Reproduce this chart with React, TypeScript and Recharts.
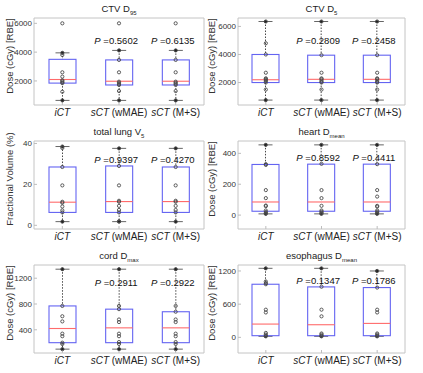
import React from 'react';
import { ComposedChart, Bar, Scatter, XAxis, YAxis, ReferenceArea } from 'recharts';

const GROUPS = ['iCT', 'sCT (wMAE)', 'sCT (M+S)'];

// CTV D95
const d95Lo = [650, 650, 650];
const d95Q1 = [1850, 1720, 1720];
const d95Med = [2100, 1980, 1980];
const d95Q3 = [3500, 3460, 3460];
const d95Hi = [3950, 4120, 4120];
const d95Points = [
  [6000, 3950, 3800, 2600, 2300, 2050, 1980, 1900, 1850, 1250, 650],
  [6000, 4120, 3460, 2600, 1950, 1880, 1800, 1720, 1300, 650],
  [6000, 4120, 3460, 2600, 1950, 1880, 1800, 1720, 1300, 650],
];
const d95P = ['', '0.5602', '0.6135'];
const d95Ticks = [2000, 4000, 6000];

// CTV D5
const d5Lo = [750, 750, 750];
const d5Q1 = [2000, 2000, 2000];
const d5Med = [2200, 2230, 2230];
const d5Q3 = [4000, 3950, 3950];
const d5Hi = [6350, 6350, 6350];
const d5Points = [
  [6350, 4800, 4000, 2700, 2300, 2250, 2180, 2100, 2000, 1500, 750],
  [6350, 3950, 2700, 2300, 2250, 2150, 2050, 2000, 1500, 750],
  [6350, 3950, 2700, 2300, 2250, 2150, 2050, 2000, 1500, 750],
];
const d5P = ['', '0.2809', '0.2458'];
const d5Ticks = [2000, 4000, 6000];

// total lung V5
const v5Lo = [1.8, 1.8, 1.8];
const v5Q1 = [6.3, 6.3, 6.3];
const v5Med = [11.3, 11.6, 11.6];
const v5Q3 = [28.5, 29, 28.5];
const v5Hi = [38.5, 37.6, 37.6];
const v5Points = [
  [38.5, 37.8, 28.5, 19.5, 11.5, 11, 9.2, 7.3, 6.3, 1.8],
  [37.6, 29, 19.5, 12, 11.5, 9.5, 7.5, 6.3, 2.0, 1.8],
  [37.6, 28.5, 19.5, 12, 11.5, 9.5, 7.5, 6.3, 1.8],
];
const v5P = ['', '0.9397', '0.4270'];
const v5Ticks = [0, 20, 40];

// heart Dmean
const heartLo = [8, 8, 8];
const heartQ1 = [25, 25, 25];
const heartMed = [85, 85, 85];
const heartQ3 = [328, 330, 330];
const heartHi = [455, 455, 455];
const heartPoints = [
  [455, 330, 325, 162, 110, 62, 58, 30, 20, 12, 8],
  [455, 332, 162, 110, 60, 30, 22, 15, 8],
  [455, 330, 162, 120, 60, 55, 30, 22, 15, 8],
];
const heartP = ['', '0.8592', '0.4411'];
const heartTicks = [0, 200, 400];

// cord Dmax
const cordLo = [100, 100, 100];
const cordQ1 = [200, 200, 200];
const cordMed = [420, 430, 430];
const cordQ3 = [770, 720, 680];
const cordHi = [1340, 1340, 1340];
const cordPoints = [
  [1340, 770, 610, 530, 340, 300, 200, 180, 100],
  [1340, 770, 720, 560, 520, 340, 300, 210, 180, 100],
  [1340, 770, 680, 560, 520, 340, 300, 210, 180, 100],
];
const cordP = ['', '0.2911', '0.2922'];
const cordTicks = [400, 800, 1200];

// esophagus Dmean
const esoLo = [18, 18, 18];
const esoQ1 = [30, 30, 30];
const esoMed = [240, 228, 252];
const esoQ3 = [960, 912, 900];
const esoHi = [1248, 1248, 1200];
const esoPoints = [
  [1248, 1010, 980, 960, 500, 450, 80, 50, 30, 18],
  [1248, 915, 500, 380, 70, 50, 30, 18],
  [1200, 900, 500, 450, 70, 50, 30, 18],
];
const esoP = ['', '0.1347', '0.1786'];
const esoTicks = [0, 600, 1200];

const FONT = '"Liberation Sans", Arial, Helvetica, sans-serif';
const PANEL_W = 211;
const ROW_TOP = [0, 124, 248];
const ROW_H = [124, 124, 125];
const COL_LEFT = [0, 211];
const PLOT_X = [
  [34, 204],
  [27, 194],
];
const PLOT_TOP = [18, 17, 17];
const PLOT_BOTTOM = 105;

const PANELS = [
  { title: 'CTV D', sub: '95', ylabel: 'Dose (cGy) [RBE]', lo: d95Lo, q1: d95Q1, med: d95Med, q3: d95Q3, hi: d95Hi, points: d95Points, p: d95P, ticks: d95Ticks, domain: [330, 6370], col: 0, row: 0, pOffset: 22 },
  { title: 'CTV D', sub: '5', ylabel: 'Dose (cGy) [RBE]', lo: d5Lo, q1: d5Q1, med: d5Med, q3: d5Q3, hi: d5Hi, points: d5Points, p: d5P, ticks: d5Ticks, domain: [400, 6600], col: 1, row: 0, pOffset: 22 },
  { title: 'total lung V', sub: '5', ylabel: 'Fractional Volume (%)', lo: v5Lo, q1: v5Q1, med: v5Med, q3: v5Q3, hi: v5Hi, points: v5Points, p: v5P, ticks: v5Ticks, domain: [-1.8, 41.2], col: 0, row: 1, pOffset: 18 },
  { title: 'heart D', sub: 'mean', ylabel: 'Dose (cGy) [RBE]', lo: heartLo, q1: heartQ1, med: heartMed, q3: heartQ3, hi: heartHi, points: heartPoints, p: heartP, ticks: heartTicks, domain: [-90, 480], col: 1, row: 1, pOffset: 16 },
  { title: 'cord D', sub: 'max', ylabel: 'Dose (cGy) [RBE]', lo: cordLo, q1: cordQ1, med: cordMed, q3: cordQ3, hi: cordHi, points: cordPoints, p: cordP, ticks: cordTicks, domain: [40, 1405], col: 0, row: 2, pOffset: 17 },
  { title: 'esophagus D', sub: 'mean', ylabel: 'Dose (cGy) [RBE]', lo: esoLo, q1: esoQ1, med: esoMed, q3: esoQ3, hi: esoHi, points: esoPoints, p: esoP, ticks: esoTicks, domain: [-283, 1308], col: 1, row: 2, pOffset: 15 },
];

function BoxShape(props: any) {
  const { x, y, width, height, payload, pY } = props;
  const { lo, q1, med, q3, hi, p } = payload;
  const top = Math.min(y, y + height);
  const h = Math.abs(height);
  const toPx = (v: number) => top + (h * (hi - v)) / (hi - lo);
  const cx = x + width / 2;
  const yq1 = toPx(q1);
  const yq3 = toPx(q3);
  const ym = toPx(med);
  const yhi = top;
  const ylo = top + h;
  return (
    <g>
      <line x1={cx} x2={cx} y1={yhi} y2={yq3} stroke="#333" strokeWidth={0.9} strokeDasharray="1.5 1.5" />
      <line x1={cx} x2={cx} y1={yq1} y2={ylo} stroke="#333" strokeWidth={0.9} strokeDasharray="1.5 1.5" />
      <line x1={cx - 7} x2={cx + 7} y1={yhi} y2={yhi} stroke="#555" strokeWidth={0.9} />
      <line x1={cx - 7} x2={cx + 7} y1={ylo} y2={ylo} stroke="#555" strokeWidth={0.9} />
      <circle cx={cx} cy={yhi} r={1.6} fill="#222" />
      <circle cx={cx} cy={ylo} r={1.6} fill="#222" />
      <rect x={x} y={yq3} width={width} height={yq1 - yq3} fill="none" stroke="#6464f2" strokeWidth={1.1} />
      <line x1={x} x2={x + width} y1={ym} y2={ym} stroke="#ff6b6b" strokeWidth={1.1} />
      {p ? (
        <text x={cx - 3} y={pY + 3.5} textAnchor="middle" fontSize={9.5} fill="#111" fontFamily={FONT}>
          <tspan fontStyle="italic">P</tspan> ={p}
        </text>
      ) : null}
    </g>
  );
}

function PointDot(props: any) {
  return <circle cx={props.cx} cy={props.cy} r={1.6} fill="none" stroke="#4a4a4a" strokeWidth={0.9} />;
}

function XTick(props: any) {
  const { x, y, payload } = props;
  const name = GROUPS[payload.value - 1] ?? '';
  const sp = name.indexOf(' ');
  const it = sp < 0 ? name : name.slice(0, sp);
  const rest = sp < 0 ? '' : name.slice(sp);
  return (
    <text x={x} y={y} dy="0.71em" textAnchor="middle" fontSize={10} fill="#222" fontFamily={FONT}>
      <tspan fontStyle="italic">{it}</tspan>
      {rest}
    </text>
  );
}

function YTick(props: any) {
  const { x, y, payload } = props;
  return (
    <text x={x} y={y} dy="0.355em" textAnchor="end" fontSize={8} fill="#333" fontFamily={FONT}>
      {payload.value}
    </text>
  );
}

function BoxPanel({ cfg }: { cfg: (typeof PANELS)[number] }) {
  const H = ROW_H[cfg.row];
  const [pl, pr] = PLOT_X[cfg.col];
  const pt = PLOT_TOP[cfg.row];
  const rows = GROUPS.map((_, i) => ({
    x: i + 1,
    range: [cfg.lo[i], cfg.hi[i]],
    lo: cfg.lo[i],
    q1: cfg.q1[i],
    med: cfg.med[i],
    q3: cfg.q3[i],
    hi: cfg.hi[i],
    p: cfg.p[i],
  }));
  const pts = cfg.points.flatMap((arr, i) => arr.map((v) => ({ x: i + 1, v })));
  const pY = pt + cfg.pOffset;
  const ylabelX = cfg.col === 0 ? 10 : 1;
  return (
    <div
      style={{
        position: 'absolute',
        left: COL_LEFT[cfg.col],
        top: ROW_TOP[cfg.row],
        width: PANEL_W,
        height: H,
      }}
    >
      <ComposedChart
        width={PANEL_W}
        height={H}
        data={rows}
        margin={{ top: pt, right: PANEL_W - pr, bottom: 0, left: 0 }}
      >
        <ReferenceArea
          x1={0.5}
          x2={3.5}
          y1={cfg.domain[0]}
          y2={cfg.domain[1]}
          fill="none"
          stroke="#c4c4c4"
          strokeWidth={1}
          fillOpacity={0}
        />
        <XAxis
          type="number"
          dataKey="x"
          domain={[0.5, 3.5]}
          ticks={[1, 2, 3]}
          interval={0}
          allowDataOverflow
          height={H - PLOT_BOTTOM}
          axisLine={false}
          tickLine={{ stroke: '#bdbdbd' }}
          tickSize={-3}
          tickMargin={7}
          tick={<XTick />}
        />
        <YAxis
          type="number"
          domain={cfg.domain}
          ticks={cfg.ticks}
          allowDataOverflow
          width={pl}
          axisLine={false}
          tickLine={{ stroke: '#bdbdbd' }}
          tickSize={-3}
          tickMargin={5}
          tick={<YTick />}
        />
        <Bar
          dataKey="range"
          barSize={27}
          isAnimationActive={false}
          shape={(p: any) => <BoxShape {...p} pY={pY} />}
        />
        <Scatter data={pts} dataKey="v" isAnimationActive={false} shape={<PointDot />} />
      </ComposedChart>
      <div
        style={{
          position: 'absolute',
          left: (pl + pr) / 2,
          top: pt - 8,
          transform: 'translate(-50%, -50%)',
          fontSize: 9.5,
          lineHeight: 1,
          color: '#222',
          whiteSpace: 'nowrap',
          fontFamily: FONT,
        }}
      >
        {cfg.title}
        <span style={{ fontSize: 6, verticalAlign: 'sub' }}>{cfg.sub}</span>
      </div>
      <div
        style={{
          position: 'absolute',
          left: ylabelX,
          top: (pt + PLOT_BOTTOM) / 2 - 6,
          transform: 'translate(-50%, -50%) rotate(-90deg)',
          fontSize: 9.5,
          lineHeight: 1,
          color: '#333',
          whiteSpace: 'nowrap',
          fontFamily: FONT,
        }}
      >
        {cfg.ylabel}
      </div>
    </div>
  );
}

export default function App() {
  return (
    <div
      style={{
        position: 'absolute',
        left: 0,
        top: 0,
        width: 423,
        height: 373,
        background: '#fff',
        overflow: 'hidden',
        fontFamily: FONT,
      }}
    >
      {PANELS.map((cfg, i) => (
        <BoxPanel key={i} cfg={cfg} />
      ))}
    </div>
  );
}
